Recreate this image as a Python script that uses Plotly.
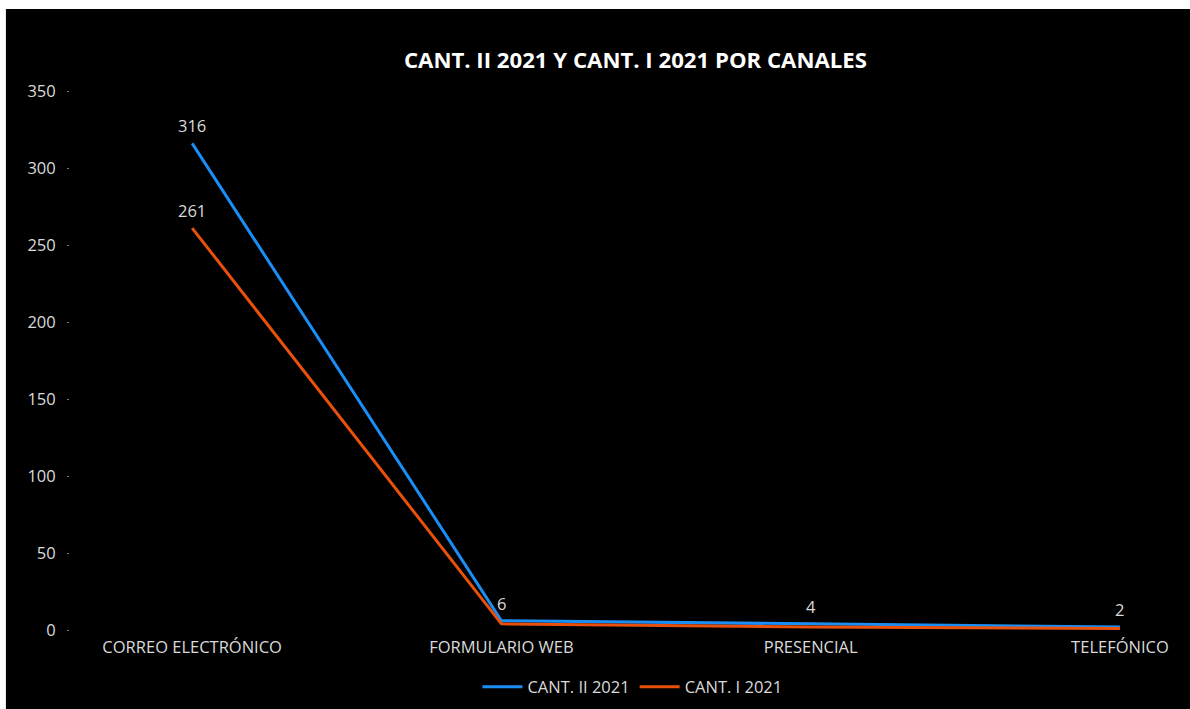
import plotly.graph_objects as go

# Data
canales = ["CORREO ELECTRÓNICO", "FORMULARIO WEB", "PRESENCIAL", "TELEFÓNICO"]
cant_ii_2021 = [316, 6, 4, 2]
cant_i_2021 = [261, 4, 2, 1]
y_ticks = [0, 50, 100, 150, 200, 250, 300, 350]

BLUE = "#1B8EF5"
ORANGE = "#E8500C"
TXT = "#DADADA"
FONT = "Open Sans"
SZ = 16.5

x_pos = list(range(len(canales)))

fig = go.Figure()
fig.add_trace(go.Scatter(
    x=x_pos, y=cant_ii_2021, mode="lines", name="CANT. II 2021",
    line=dict(color=BLUE, width=3),
))
fig.add_trace(go.Scatter(
    x=x_pos, y=cant_i_2021, mode="lines", name="CANT. I 2021",
    line=dict(color=ORANGE, width=3),
))

# Data labels: every point of CANT. II, first point of CANT. I
labels = [(x, v) for x, v in zip(x_pos, cant_ii_2021)] + [(x_pos[0], cant_i_2021[0])]
for x, v in labels:
    fig.add_annotation(x=x, y=v, text=str(v), showarrow=False,
                       xanchor="center", yanchor="bottom", yshift=4,
                       font=dict(family=FONT, size=SZ, color=TXT))

# Black card behind the chart
fig.add_shape(type="rect", xref="paper", yref="paper",
              x0=-0.058, x1=1.2, y0=-0.4, y1=1.152,
              fillcolor="black", line=dict(width=0), layer="below")

fig.update_layout(
    width=1190, height=709,
    margin=dict(l=70, r=15, t=91, b=79, autoexpand=False),
    paper_bgcolor="white",
    plot_bgcolor="black",
    font=dict(family=FONT, color=TXT, size=SZ),
    title=dict(text="<b>CANT. II 2021 Y CANT. I 2021 POR CANALES</b>",
               x=0.534, xanchor="center", y=0.915, yanchor="middle",
               xref="container", yref="container",
               font=dict(family=FONT, size=22.2, color="white")),
    showlegend=True,
    legend=dict(orientation="h", x=0.509, xanchor="center",
                y=-0.106, yanchor="middle",
                font=dict(family=FONT, size=SZ, color=TXT),
                bgcolor="rgba(0,0,0,0)", itemwidth=40, tracegroupgap=0),
    xaxis=dict(
        range=[-0.395, 3.178], tickmode="array", tickvals=x_pos, ticktext=canales,
        showgrid=False, zeroline=False, showline=False, ticks="",
        tickfont=dict(family=FONT, size=SZ, color=TXT),
        ticklabelstandoff=5,
    ),
    yaxis=dict(
        range=[0, 350], tickmode="array", tickvals=y_ticks,
        showgrid=False, zeroline=False, showline=False,
        ticks="outside", ticklen=2, tickwidth=1, tickcolor="#777777",
        tickfont=dict(family=FONT, size=SZ, color=TXT),
        ticklabelstandoff=8,
    ),
)

fig.write_html("out.html")
